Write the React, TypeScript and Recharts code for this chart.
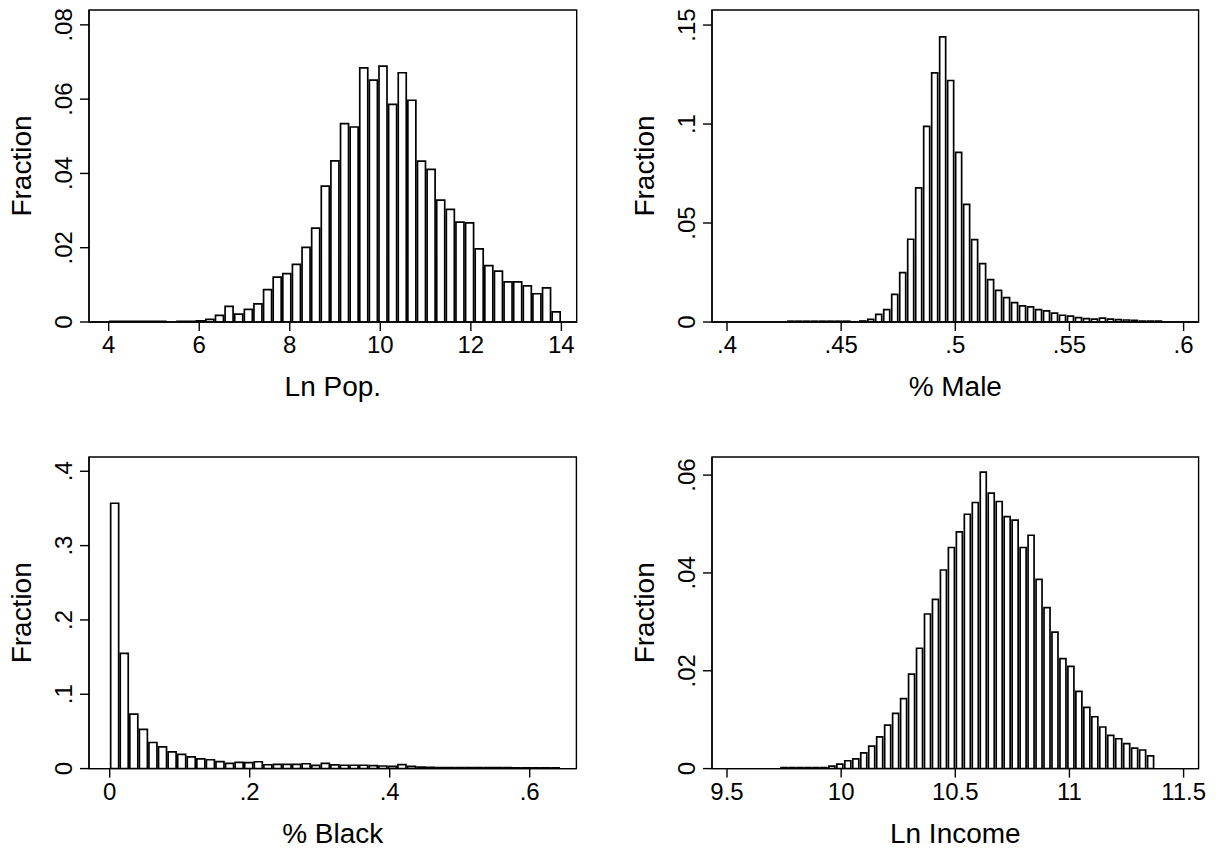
import React from 'react';
import { ComposedChart, Bar, XAxis, YAxis, ReferenceArea } from 'recharts';

// ---------- Ln Pop. ----------
const lnPopBinStart = 4.0;
const lnPopBinWidth = 0.2125;
const lnPopFraction = [
  0.0002, 0.0002, 0.0002, 0.0002, 0.0002, 0.0002, 0, 0.0002, 0.0002, 0.0003,
  0.0007, 0.0018, 0.0042, 0.0021, 0.0034, 0.0049, 0.0087, 0.0121, 0.013, 0.0155,
  0.0201, 0.0253, 0.0366, 0.0434, 0.0534, 0.0525, 0.0684, 0.0651, 0.0689, 0.0586,
  0.0671, 0.0597, 0.0433, 0.0411, 0.0328, 0.0303, 0.0269, 0.0267, 0.0197, 0.0152,
  0.0137, 0.0108, 0.0108, 0.0097, 0.0076, 0.0092, 0.0027,
];
const lnPopXTicks = [4, 6, 8, 10, 12, 14];
const lnPopXLabels = ['4', '6', '8', '10', '12', '14'];
const lnPopYTicks = [0, 0.02, 0.04, 0.06, 0.08];
const lnPopYLabels = ['0', '.02', '.04', '.06', '.08'];

// ---------- % Male ----------
const maleBinStart = 0.4263;
const maleBinWidth = 0.0035;
const maleFraction = [
  0.0004, 0.0004, 0.0004, 0.0004, 0.0004, 0.0004, 0.0004, 0.0004, 0.0001, 0.0005,
  0.0013, 0.0039, 0.0062, 0.014, 0.0249, 0.0418, 0.0677, 0.0988, 0.1258, 0.144,
  0.122, 0.0857, 0.0594, 0.0416, 0.0295, 0.0214, 0.016, 0.0123, 0.0098, 0.0081,
  0.0076, 0.0062, 0.0056, 0.0045, 0.0034, 0.003, 0.0022, 0.0017, 0.0015, 0.002,
  0.0015, 0.0012, 0.001, 0.0008, 0.0005, 0.0005, 0.0004,
];
const maleXTicks = [0.4, 0.45, 0.5, 0.55, 0.6];
const maleXLabels = ['.4', '.45', '.5', '.55', '.6'];
const maleYTicks = [0, 0.05, 0.1, 0.15];
const maleYLabels = ['0', '.05', '.1', '.15'];

// ---------- % Black ----------
const blackBinStart = 0;
const blackBinWidth = 0.01368;
const blackFraction = [
  0.357, 0.155, 0.0733, 0.0527, 0.0351, 0.0293, 0.0225, 0.019, 0.0158, 0.0132,
  0.0119, 0.0094, 0.007, 0.0083, 0.0079, 0.0092, 0.0052, 0.0056, 0.0057, 0.0057,
  0.0065, 0.0042, 0.0071, 0.005, 0.0045, 0.0045, 0.0045, 0.004, 0.0035, 0.003,
  0.0054, 0.003, 0.002, 0.0016, 0.0015, 0.0015, 0.0014, 0.0014, 0.0013, 0.0013,
  0.0012, 0.0012, 0.0011, 0.0011, 0.001, 0.001, 0.0009,
];
const blackXTicks = [0, 0.2, 0.4, 0.6];
const blackXLabels = ['0', '.2', '.4', '.6'];
const blackYTicks = [0, 0.1, 0.2, 0.3, 0.4];
const blackYLabels = ['0', '.1', '.2', '.3', '.4'];

// ---------- Ln Income ----------
const incomeBinStart = 9.7334;
const incomeBinWidth = 0.0349;
const incomeFraction = [
  0.0002, 0.0002, 0.0002, 0.0002, 0.0002, 0.0002, 0.0005, 0.0009, 0.0016, 0.002,
  0.0032, 0.0046, 0.0065, 0.0089, 0.0113, 0.0143, 0.0193, 0.0246, 0.0316, 0.0346,
  0.0406, 0.0452, 0.0484, 0.052, 0.0544, 0.0606, 0.0563, 0.0546, 0.0515, 0.0508,
  0.0452, 0.0477, 0.0387, 0.0329, 0.0279, 0.0225, 0.0209, 0.0158, 0.0125, 0.0106,
  0.0085, 0.0068, 0.0061, 0.0051, 0.0042, 0.0038, 0.0026,
];
const incomeXTicks = [9.5, 10, 10.5, 11, 11.5];
const incomeXLabels = ['9.5', '10', '10.5', '11', '11.5'];
const incomeYTicks = [0, 0.02, 0.04, 0.06];
const incomeYLabels = ['0', '.02', '.04', '.06'];

const FONT = '"Liberation Sans", Arial, Helvetica, sans-serif';
const Y_AXIS_W = 89;
const X_AXIS_H = 100;
const TICK_SIZE = 9;
const STROKE = 1.4;
const BAR_STROKE = 1.7;

type PanelProps = {
  frameX: number;
  frameY: number;
  frameW: number;
  frameH: number;
  values: number[];
  binStart: number;
  binWidth: number;
  xDomain: [number, number];
  xTicks: number[];
  xLabels: string[];
  yMax: number;
  yTicks: number[];
  yLabels: string[];
  xTitle: string;
  yTitle: string;
};

function Panel(p: PanelProps) {
  const data = p.values.map((v, i) => ({
    mid: p.binStart + (i + 0.5) * p.binWidth,
    fraction: v,
  }));
  const width = Y_AXIS_W + p.frameW + 20;
  const height = 10 + p.frameH + X_AXIS_H + 5;

  const XTick = (props: any) => {
    const { x, y, payload } = props;
    const idx = p.xTicks.indexOf(payload.value);
    return (
      <text x={x} y={y + 20} textAnchor="middle" fontSize={24} fontFamily={FONT} fill="#000">
        {idx >= 0 ? p.xLabels[idx] : String(payload.value)}
      </text>
    );
  };
  const YTick = (props: any) => {
    const { x, y, payload } = props;
    const idx = p.yTicks.indexOf(payload.value);
    const bx = x - 6;
    return (
      <text
        x={bx}
        y={y}
        transform={`rotate(-90 ${bx} ${y})`}
        textAnchor="middle"
        fontSize={24}
        fontFamily={FONT}
        fill="#000"
      >
        {idx >= 0 ? p.yLabels[idx] : String(payload.value)}
      </text>
    );
  };
  const XTitle = (props: any) => {
    const vb = props.viewBox || {};
    const cx = (vb.x ?? 0) + (vb.width ?? 0) / 2;
    const ty = (vb.y ?? 0) + 74;
    return (
      <text x={cx} y={ty} textAnchor="middle" fontSize={28} fontFamily={FONT} fill="#000">
        {p.xTitle}
      </text>
    );
  };
  const YTitle = (props: any) => {
    const vb = props.viewBox || {};
    const cy = (vb.y ?? 0) + (vb.height ?? 0) / 2;
    const bx = (vb.x ?? 0) + 31;
    return (
      <text
        x={bx}
        y={cy}
        transform={`rotate(-90 ${bx} ${cy})`}
        textAnchor="middle"
        fontSize={28}
        fontFamily={FONT}
        fill="#000"
      >
        {p.yTitle}
      </text>
    );
  };

  return (
    <div
      style={{
        position: 'absolute',
        left: p.frameX - Y_AXIS_W,
        top: p.frameY - 10,
        width,
        height,
      }}
    >
      <ComposedChart
        width={width}
        height={height}
        data={data}
        margin={{ top: 10, right: 20, left: 0, bottom: 5 }}
        barCategoryGap="10%"
      >
        <XAxis
          dataKey="mid"
          type="number"
          domain={p.xDomain}
          allowDataOverflow
          ticks={p.xTicks}
          interval={0}
          height={X_AXIS_H}
          tickSize={TICK_SIZE}
          tickMargin={2}
          axisLine={{ stroke: '#000', strokeWidth: STROKE }}
          tickLine={{ stroke: '#000', strokeWidth: STROKE }}
          tick={<XTick />}
          label={<XTitle />}
        />
        <YAxis
          type="number"
          domain={[0, p.yMax]}
          allowDataOverflow
          ticks={p.yTicks}
          interval={0}
          width={Y_AXIS_W}
          tickSize={TICK_SIZE}
          tickMargin={2}
          axisLine={{ stroke: '#000', strokeWidth: STROKE }}
          tickLine={{ stroke: '#000', strokeWidth: STROKE }}
          tick={<YTick />}
          label={<YTitle />}
        />
        <Bar
          dataKey="fraction"
          fill="#fff"
          stroke="#000"
          strokeWidth={BAR_STROKE}
          isAnimationActive={false}
        />
        <ReferenceArea
          x1={p.xDomain[0]}
          x2={p.xDomain[1]}
          y1={0}
          y2={p.yMax}
          fill="none"
          fillOpacity={0}
          stroke="#000"
          strokeWidth={STROKE}
          ifOverflow="visible"
        />
      </ComposedChart>
    </div>
  );
}

export default function App() {
  return (
    <div
      style={{
        position: 'absolute',
        left: 0,
        top: 0,
        width: 1223,
        height: 851,
        background: '#fff',
        overflow: 'hidden',
      }}
    >
      <Panel
        frameX={89.3}
        frameY={10}
        frameW={487.7}
        frameH={312}
        values={lnPopFraction}
        binStart={lnPopBinStart}
        binWidth={lnPopBinWidth}
        xDomain={[3.565, 14.338]}
        xTicks={lnPopXTicks}
        xLabels={lnPopXLabels}
        yMax={0.084}
        yTicks={lnPopYTicks}
        yLabels={lnPopYLabels}
        xTitle="Ln Pop."
        yTitle="Fraction"
      />
      <Panel
        frameX={711.7}
        frameY={10}
        frameW={486.6}
        frameH={312}
        values={maleFraction}
        binStart={maleBinStart}
        binWidth={maleBinWidth}
        xDomain={[0.39343, 0.60657]}
        xTicks={maleXTicks}
        xLabels={maleXLabels}
        yMax={0.1576}
        yTicks={maleYTicks}
        yLabels={maleYLabels}
        xTitle="% Male"
        yTitle="Fraction"
      />
      <Panel
        frameX={89.3}
        frameY={456.7}
        frameW={487.4}
        frameH={311.6}
        values={blackFraction}
        binStart={blackBinStart}
        binWidth={blackBinWidth}
        xDomain={[-0.02957, 0.6667]}
        xTicks={blackXTicks}
        xLabels={blackXLabels}
        yMax={0.4192}
        yTicks={blackYTicks}
        yLabels={blackYLabels}
        xTitle="% Black"
        yTitle="Fraction"
      />
      <Panel
        frameX={711.7}
        frameY={456.7}
        frameW={486.6}
        frameH={311.6}
        values={incomeFraction}
        binStart={incomeBinStart}
        binWidth={incomeBinWidth}
        xDomain={[9.4343, 11.5657]}
        xTicks={incomeXTicks}
        xLabels={incomeXLabels}
        yMax={0.0637}
        yTicks={incomeYTicks}
        yLabels={incomeYLabels}
        xTitle="Ln Income"
        yTitle="Fraction"
      />
    </div>
  );
}
